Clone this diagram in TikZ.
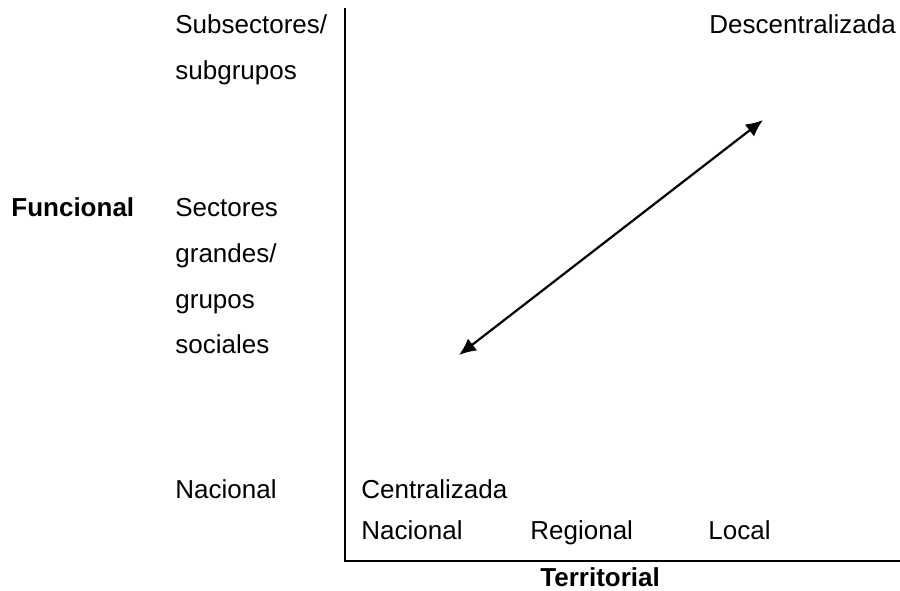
\documentclass[tikz,border=0pt]{standalone}
\usepackage{fontspec}
\setmainfont{Liberation Sans}
\usetikzlibrary{arrows.meta}

\begin{document}
\begin{tikzpicture}[x=0.5pt, y=-0.5pt,
    lab/.style={anchor=base west, inner sep=0pt, font=\fontsize{13}{15}\selectfont},
    boldlab/.style={lab, font=\fontsize{13}{15}\selectfont\bfseries},
    axis/.style={line width=1pt},
    span/.style={line width=1.1pt, {Latex[length=8.5pt,width=7.5pt]}-{Latex[length=8.5pt,width=7.5pt]}}]
            \useasboundingbox (0,0) rectangle (900,590);

            % Axes
            \coordinate (top) at (345,8);
            \coordinate (origin) at (345,561);
            \coordinate (right) at (900,561);
            \draw[axis] (top) -- (origin) -- (right);

            % Functional axis labels
            \node[boldlab] (func) at (11,216) {Funcional};
            \node[lab] (sub) at (175,33) {Subsectores/};
            \node[lab] (subg) at (175,79) {subgrupos};
            \node[lab] (sect) at (175,216) {Sectores};
            \node[lab] (grand) at (175,262) {grandes/};
            \node[lab] (grup) at (175,308) {grupos};
            \node[lab] (soc) at (175,353) {sociales};
            \node[lab] (nacF) at (175,498) {Nacional};

            % Territorial axis labels
            \node[lab] (cent) at (361,498) {Centralizada};
            \node[lab] (nacT) at (361,539) {Nacional};
            \node[lab] (reg) at (530,539) {Regional};
            \node[lab] (loc) at (708,539) {Local};
            \node[boldlab] (terr) at (540,586) {Territorial};
            \node[lab] (desc) at (709,33) {Descentralizada};

            % Double arrow
            \coordinate (low) at (459,355);
            \coordinate (high) at (763,120);
            \draw[span] (low) -- (high);
        \end{tikzpicture}
\end{document}
